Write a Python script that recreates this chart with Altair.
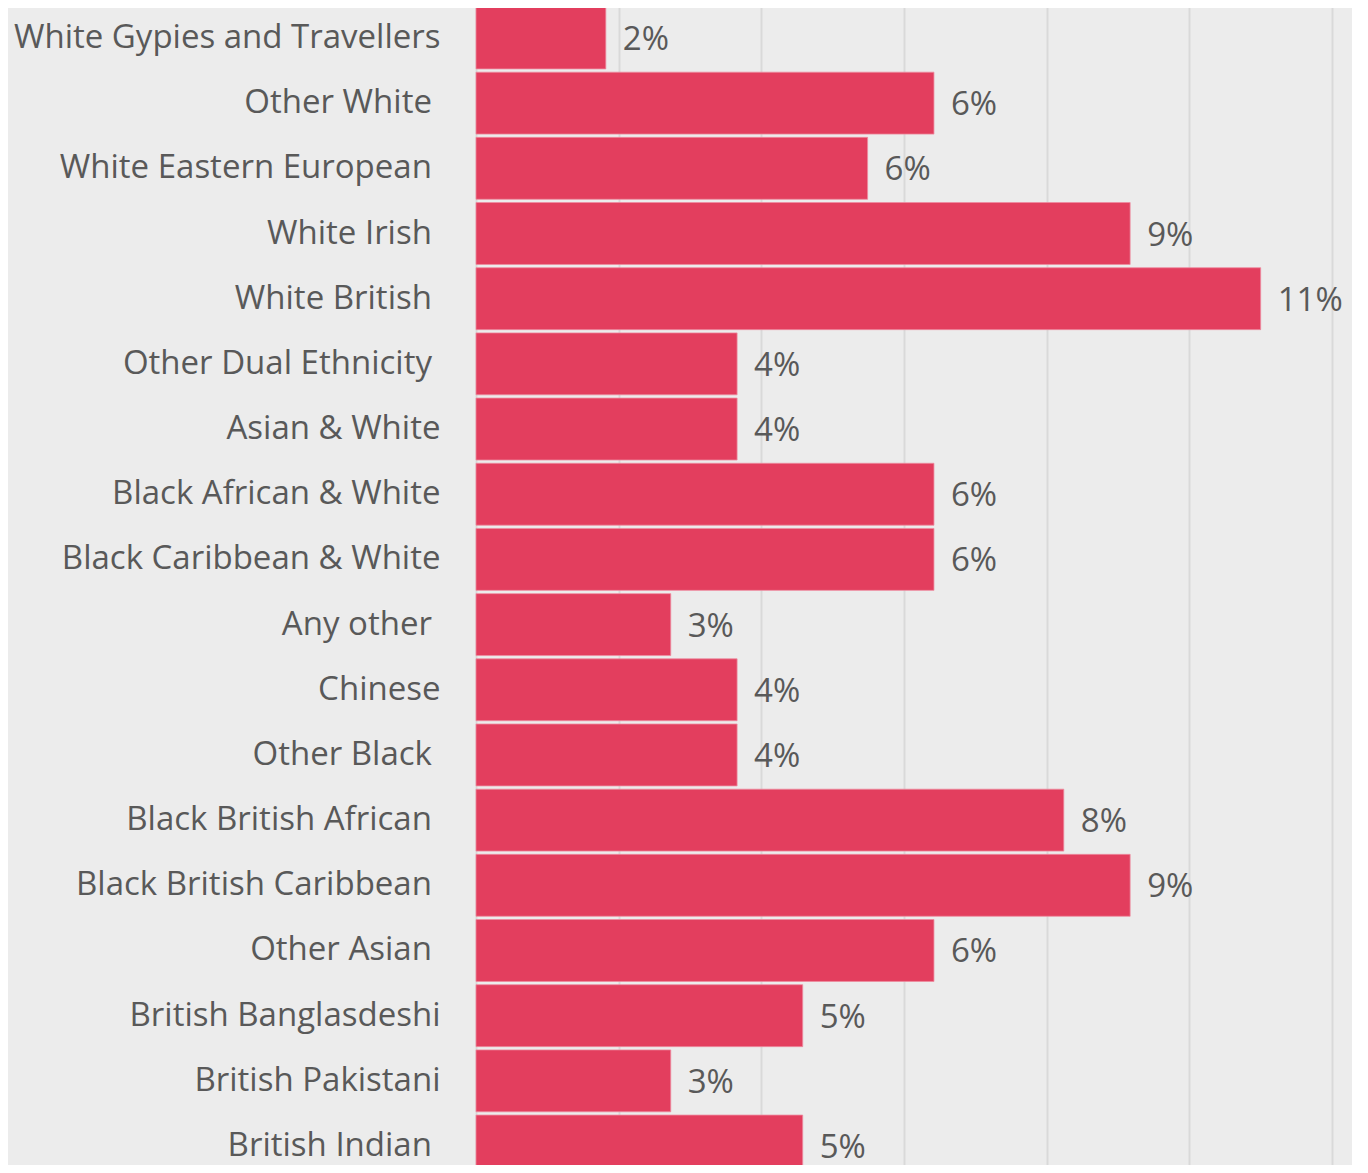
import altair as alt
import pandas as pd

SP = "\u00a0\u200b"
categories = [
    "White Gypies and Travellers", "Other White" + SP, "White Eastern European" + SP,
    "White Irish" + SP, "White British" + SP, "Other Dual Ethnicity" + SP,
    "Asian & White", "Black African & White", "Black Caribbean & White",
    "Any other" + SP, "Chinese", "Other Black" + SP, "Black British African" + SP,
    "Black British Caribbean" + SP, "Other Asian" + SP, "British Banglasdeshi",
    "British Pakistani", "British Indian" + SP,
]
values = [1.82, 6.42, 5.49, 9.17, 11.0, 3.66, 3.66, 6.42, 6.42, 2.73, 3.66, 3.66,
          8.24, 9.17, 6.42, 4.58, 2.73, 4.58]
labels = ["2%", "6%", "6%", "9%", "11%", "4%", "4%", "6%", "6%", "3%", "4%", "4%",
          "8%", "9%", "6%", "5%", "3%", "5%"]

df = pd.DataFrame({"cat": categories, "val": values, "lab": labels})

FONT = "Open Sans"
y = alt.Y("cat:N", sort=categories, title=None,
          scale=alt.Scale(paddingInner=0.05, paddingOuter=0.0, range=[-1, 1169]),
          axis=alt.Axis(labelFont=FONT, labelFontSize=33, labelColor="#595959",
                        labelPadding=36, ticks=False, domain=False, labelLimit=0))
x = alt.X("val:Q", title=None,
          scale=alt.Scale(domain=[0, 12], nice=False),
          axis=alt.Axis(values=[0, 2, 4, 6, 8, 10, 12], labels=False, ticks=False,
                        domain=False, grid=True, gridColor="#d9d9d9", gridWidth=2))

bars = alt.Chart(df).mark_bar(color="#e33e5e", stroke="#ee8ba0", strokeWidth=0.8).encode(x=x, y=y)
text = alt.Chart(df).mark_text(align="left", baseline="middle", dx=17, dy=2,
                               font=FONT, fontSize=33, color="#595959").encode(
    x="val:Q", y=alt.Y("cat:N", sort=categories), text="lab:N")

chart = (bars + text).properties(
    width=856, height=1157, background="#ececec",
    padding={"left": 468, "top": 0, "right": 20, "bottom": 0},
    autosize="none",
).configure_view(stroke=None)

chart.save("out.html", embed_options={"renderer": "svg", "actions": False})
